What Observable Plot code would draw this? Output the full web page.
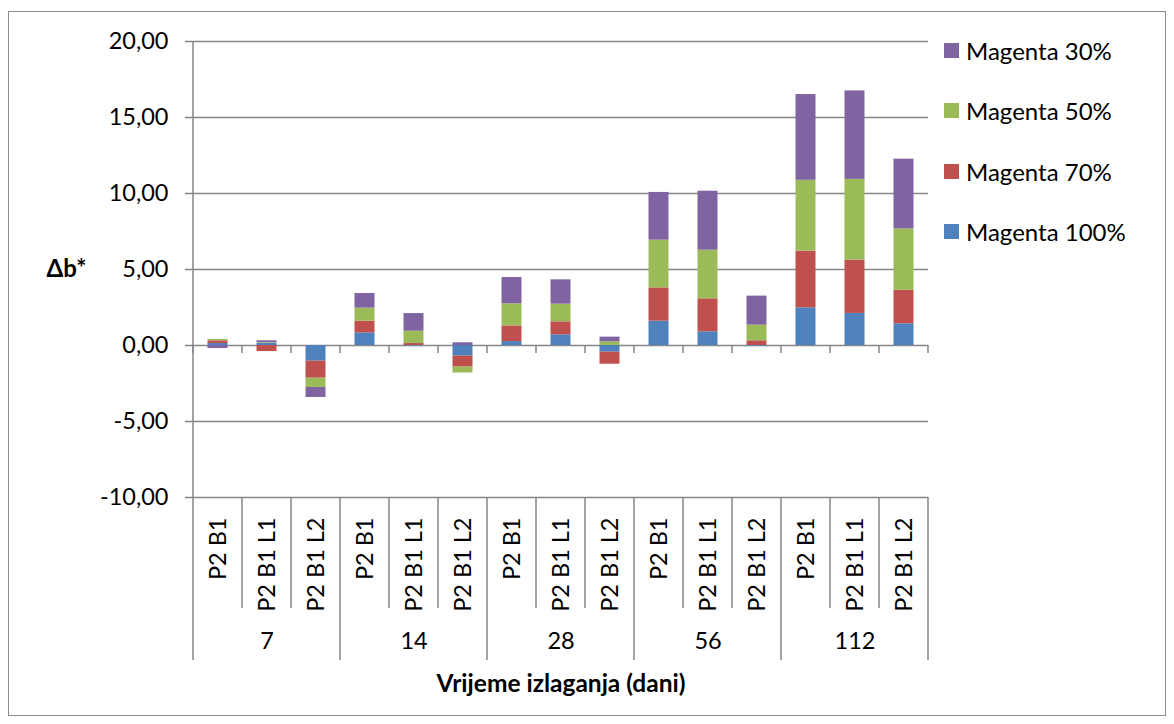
<!DOCTYPE html>
<html><head><meta charset="utf-8">
<script src="https://cdn.jsdelivr.net/npm/d3@7"></script>
<script src="https://cdn.jsdelivr.net/npm/@observablehq/plot@0.6"></script>
<style>
body{margin:0;background:#fff;}
#wrap{position:relative;width:1174px;height:724px;font-family:Lato,"Open Sans",sans-serif;color:#000;overflow:hidden;}
#frame{position:absolute;left:8px;top:11px;width:1158px;height:705px;border:1.5px solid #8c8c8c;box-sizing:border-box;pointer-events:none;}
#chart{position:absolute;left:0;top:0;}
#legend{position:absolute;left:944px;top:20px;font-size:24px;}
.item{display:flex;align-items:center;height:60.5px;}
.sw{width:15px;height:15px;margin-right:7px;}
</style></head>
<body>
<div id="wrap"><div id="chart"></div><div id="legend"></div><div id="frame"></div></div>
<script>
const groups = ["7","14","28","56","112"];
const subLabels = ["P2 B1","P2 B1 L1","P2 B1 L2"];
const seriesNames = ["Magenta 100%","Magenta 70%","Magenta 50%","Magenta 30%"];
const seriesColors = ["#4F81BD","#C0504D","#9BBB59","#8064A2"];
// values per category (7: B1, L1, L2; 14: ...; 28; 56; 112)
const m100 = [0.13, 0.15, -1.03, 0.83, -0.03, -0.70, 0.26, 0.70, -0.44, 1.60, 0.90, -0.05, 2.48, 2.11, 1.43];
const m70  = [0.18, -0.40, -1.12, 0.77, 0.13, -0.72, 1.03, 0.86, -0.79, 2.19, 2.17, 0.31, 3.73, 3.51, 2.20];
const m50  = [0.09, 0.04, -0.61, 0.86, 0.81, -0.39, 1.45, 1.16, 0.24, 3.14, 3.20, 1.03, 4.66, 5.31, 4.04];
const m30  = [-0.20, 0.12, -0.66, 0.96, 1.16, 0.18, 1.73, 1.60, 0.31, 3.14, 3.88, 1.91, 5.64, 5.82, 4.59];
const yTicks = [-10, -5, 0, 5, 10, 15, 20];
const yTitle = "Δb*";
const xTitle = "Vrijeme izlaganja (dani)";

const cats = groups.flatMap(g => subLabels.map(s => ({id: g + "|" + s, group: g, sub: s})));
const seriesValues = [m100, m70, m50, m30];
const data = cats.flatMap((c, i) => seriesNames.map((s, k) => ({id: c.id, series: s, value: seriesValues[k][i]})));

const W = 1174, H = 724;
const fmt = d => d.toFixed(2).replace(".", ",");
const gridColor = "#868686";

const plot = Plot.plot({
  width: W, height: H,
  marginLeft: 193, marginRight: 246, marginTop: 41, marginBottom: 64,
  style: {fontFamily: "Lato, 'Open Sans', sans-serif", fontSize: "23px", color: "#000", background: "transparent", overflow: "visible"},
  x: {type: "band", domain: cats.map(c => c.id), range: [193, 928], padding: 0, axis: null},
  y: {domain: [-10, 20], range: [497, 41], axis: null},
  color: {domain: seriesNames, range: seriesColors},
  marks: [
    Plot.ruleY(yTicks, {stroke: gridColor, strokeWidth: 1.5}),
    Plot.barY(data, {x: "id", y: "value", fill: "series", insetLeft: 14.5, insetRight: 14.5}),
    Plot.axisY({ticks: yTicks, tickFormat: fmt, tickSize: 8, tickPadding: 17, stroke: gridColor, strokeWidth: 1.5, fontSize: 23.5, label: null}),
    Plot.text(cats, {x: "id", y: () => d3.min(yTicks), text: "sub", rotate: -90, textAnchor: "end", dy: 20, fontSize: 23.5}),
    Plot.text(groups, {x: g => g + "|" + subLabels[1], text: d => d, frameAnchor: "bottom", dy: -12, fontSize: 23.5}),
    Plot.text([xTitle], {text: d => d, frameAnchor: "bottom", dy: 31, fontWeight: "bold", fontSize: 24.5}),
    Plot.text([yTitle], {text: d => d, frameAnchor: "left", y: () => 5, dx: -128, textAnchor: "end", dx: -107, fontWeight: "bold", fontSize: 24})
  ]
});
document.getElementById("chart").appendChild(plot);

// category axis separators and zero-line ticks, positioned through Plot's scales
const xs = plot.scale("x"), ys = plot.scale("y");
const bw = xs.bandwidth;
const svg = d3.select(plot);
const g = svg.append("g").attr("stroke", gridColor).attr("stroke-width", 1.5);
const y0 = ys.apply(0), yLow = ys.apply(d3.min(yTicks)), yTop = ys.apply(d3.max(yTicks));
const edges = cats.map((c, i) => ({x: xs.apply(c.id), groupStart: i % subLabels.length === 0}));
edges.push({x: xs.apply(cats[cats.length - 1].id) + bw, groupStart: true});
edges.forEach(e => {
  g.append("line").attr("x1", e.x).attr("x2", e.x).attr("y1", y0).attr("y2", y0 + 8);
  g.append("line").attr("x1", e.x).attr("x2", e.x).attr("y1", yLow).attr("y2", e.groupStart ? H - 64 : yLow + 111);
});
g.append("line").attr("x1", edges[0].x).attr("x2", edges[0].x).attr("y1", yTop).attr("y2", yLow);

// legend (top to bottom: reverse series order)
const legend = d3.select("#legend");
seriesNames.slice().reverse().forEach(s => {
  const it = legend.append("div").attr("class", "item");
  it.append("div").attr("class", "sw").style("background", seriesColors[seriesNames.indexOf(s)]);
  it.append("span").text(s);
});
</script>
</body></html>
